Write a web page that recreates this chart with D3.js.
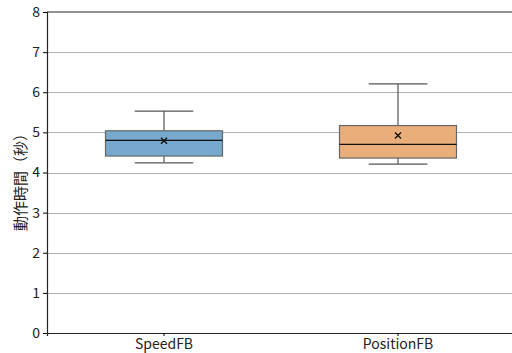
<!DOCTYPE html>
<meta charset="utf-8">
<head>
    <style>
        body { margin: 0; background: #fff; }
        text { font-family: 'Noto Sans CJK JP', 'Noto Sans', sans-serif; }
        .grid line { stroke: #b0b0b0; stroke-width: 1; }
    </style>
</head>
<body>
    <svg width="512" height="353"></svg>
    <script src="https://d3js.org/d3.v7.min.js"></script>
    <script type="text/javascript">

        // data
        var categories = ["SpeedFB", "PositionFB"];
        var whiskerLow = [4.24, 4.21];
        var q1 = [4.41, 4.36];
        var median = [4.80, 4.70];
        var q3 = [5.04, 5.17];
        var whiskerHigh = [5.53, 6.21];
        var means = [4.79, 4.92];
        var colors = ["#76a9cd", "#eaae7b"];
        var yTicks = [0, 1, 2, 3, 4, 5, 6, 7, 8];

        var svg = d3.select("svg");
        var mLeft = 47, mRight = 515, mTop = 12, mBottom = 333;

        var x = d3.scaleBand().domain(categories).range([mLeft, mRight]);
        var y = d3.scaleLinear().domain([0, 8]).range([mBottom, mTop]);

        // grid
        svg.append("g")
            .attr("class", "grid")
            .selectAll("line")
            .data(yTicks.slice(1, -1))
            .enter().append("line")
            .attr("x1", mLeft).attr("x2", mRight)
            .attr("y1", function (d) { return Math.round(y(d)) + 0.5; })
            .attr("y2", function (d) { return Math.round(y(d)) + 0.5; });

        var boxW = x.bandwidth() / 2;
        var capW = boxW / 2;
        function cx(d) { return x(d) + x.bandwidth() / 2; }

        var g = svg.append("g").selectAll("g")
            .data(categories)
            .enter().append("g");

        // whiskers
        g.append("line")
            .attr("x1", cx).attr("x2", cx)
            .attr("y1", function (d, i) { return y(whiskerHigh[i]); })
            .attr("y2", function (d, i) { return y(q3[i]); })
            .attr("stroke", "#555").attr("stroke-width", 1.2);
        g.append("line")
            .attr("x1", cx).attr("x2", cx)
            .attr("y1", function (d, i) { return y(q1[i]); })
            .attr("y2", function (d, i) { return y(whiskerLow[i]); })
            .attr("stroke", "#555").attr("stroke-width", 1.2);
        [whiskerHigh, whiskerLow].forEach(function (arr) {
            g.append("line")
                .attr("x1", function (d) { return cx(d) - capW / 2; })
                .attr("x2", function (d) { return cx(d) + capW / 2; })
                .attr("y1", function (d, i) { return y(arr[i]); })
                .attr("y2", function (d, i) { return y(arr[i]); })
                .attr("stroke", "#555").attr("stroke-width", 1.2);
        });

        // boxes
        g.append("rect")
            .attr("x", function (d) { return cx(d) - boxW / 2; })
            .attr("width", boxW)
            .attr("y", function (d, i) { return y(q3[i]); })
            .attr("height", function (d, i) { return y(q1[i]) - y(q3[i]); })
            .attr("fill", function (d, i) { return colors[i]; })
            .attr("stroke", "#666").attr("stroke-width", 1.2);

        // median
        g.append("line")
            .attr("x1", function (d) { return cx(d) - boxW / 2; })
            .attr("x2", function (d) { return cx(d) + boxW / 2; })
            .attr("y1", function (d, i) { return y(median[i]); })
            .attr("y2", function (d, i) { return y(median[i]); })
            .attr("stroke", "#111").attr("stroke-width", 1.3);

        // mean marker
        g.append("path")
            .attr("transform", function (d, i) {
                return "translate(" + cx(d) + "," + y(means[i]) + ")";
            })
            .attr("d", "M-3,-3L3,3M-3,3L3,-3")
            .attr("stroke", "#111").attr("stroke-width", 1.4);

        // axes
        svg.append("g")
            .attr("transform", "translate(" + mLeft + ",0)")
            .call(d3.axisLeft(y).tickValues(yTicks).tickSize(4).tickPadding(3))
            .call(function (s) {
                s.selectAll("text").style("font-size", "14px").attr("fill", "#222");
                s.select(".domain").attr("stroke", "#222").attr("stroke-width", 1.2);
            });

        svg.append("g")
            .attr("transform", "translate(0," + mBottom + ")")
            .call(d3.axisBottom(x).tickSize(3).tickPadding(3))
            .call(function (s) {
                s.selectAll("text").style("font-size", "14px").attr("fill", "#222");
                s.select(".domain").attr("stroke", "#222").attr("stroke-width", 1.2);
            });

        svg.append("line")
            .attr("x1", mLeft).attr("x2", mRight)
            .attr("y1", mTop).attr("y2", mTop)
            .attr("stroke", "#222").attr("stroke-width", 1.2);

        svg.append("text")
            .attr("transform", "translate(26," + ((mTop + mBottom) / 2 + 6) + ") rotate(-90)")
            .attr("text-anchor", "middle")
            .attr("fill", "#222")
            .style("font-size", "15px")
            .text("動作時間（秒）");

    </script>
</body>
